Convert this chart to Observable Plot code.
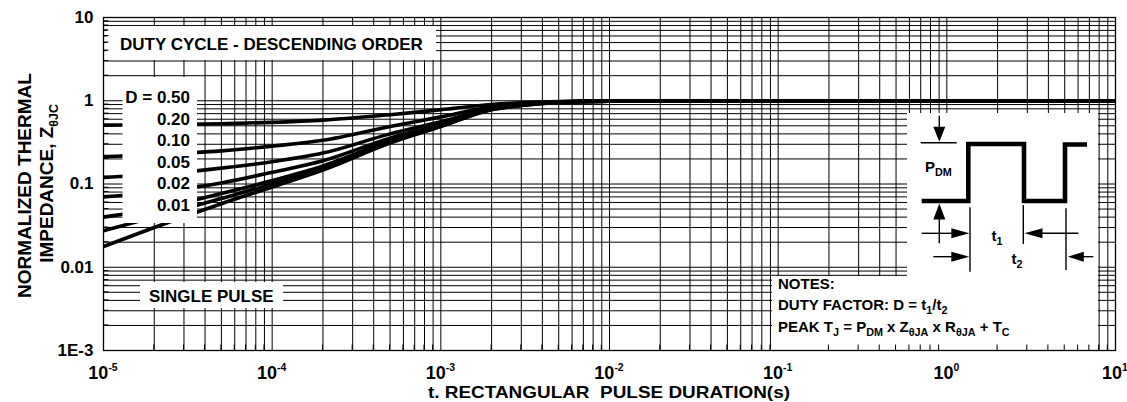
<!DOCTYPE html>
<html><head><meta charset="utf-8">
<script src="https://cdn.jsdelivr.net/npm/d3@7"></script>
<script src="https://cdn.jsdelivr.net/npm/@observablehq/plot@0.6"></script>
<style>
html,body{margin:0;padding:0;background:#fff;}
#chart svg{display:block;}
</style></head><body><div id="chart"></div>
<script>
// ---- axis / tick data ----
const xDecades = [1e-5, 1e-4, 1e-3, 1e-2, 1e-1, 1, 10];
const xExponents = ["-5", "-4", "-3", "-2", "-1", "0", "1"];
const yDecades = [10, 1, 0.1, 0.01, 0.001];
const yTickLabels = ["10", "1", "0.1", "0.01", "1E-3"];
const gridMultipliers = [1, 2, 3, 4, 5, 6, 7, 8, 9];

// ---- series ----
const pulseDuration = [1e-5, 2e-5, 5e-5, 1e-4, 2e-4, 5e-4, 1e-3, 2e-3, 3e-3, 5e-3, 1e-2, 1e-1, 1, 10];
const zD050   = [0.51,   0.515, 0.53,  0.55,  0.585, 0.68,  0.78,  0.90,  0.945, 0.98,  0.995, 1.0, 1.0, 1.0];
const zD020   = [0.213,  0.225, 0.25,  0.285, 0.335, 0.49,  0.64,  0.84,  0.915, 0.97,  0.99,  1.0, 1.0, 1.0];
const zD010   = [0.12,   0.13,  0.155, 0.185, 0.235, 0.40,  0.56,  0.81,  0.90,  0.965, 0.99,  1.0, 1.0, 1.0];
const zD005   = [0.070,  0.079, 0.103, 0.138, 0.19,  0.355, 0.52,  0.795, 0.89,  0.96,  0.99,  1.0, 1.0, 1.0];
const zD002   = [0.040,  0.050, 0.077, 0.11,  0.165, 0.33,  0.50,  0.79,  0.885, 0.96,  0.99,  1.0, 1.0, 1.0];
const zD001   = [0.0275, 0.040, 0.067, 0.10,  0.155, 0.32,  0.495, 0.785, 0.88,  0.955, 0.99,  1.0, 1.0, 1.0];
const zSingle = [0.0177, 0.030, 0.058, 0.092, 0.147, 0.31,  0.49,  0.78,  0.875, 0.955, 0.99,  1.0, 1.0, 1.0];
const legendLabels = ["0.50", "0.20", "0.10", "0.05", "0.02", "0.01"];

const seriesList = [
  ["D=0.50", zD050], ["D=0.20", zD020], ["D=0.10", zD010], ["D=0.05", zD005],
  ["D=0.02", zD002], ["D=0.01", zD001], ["SINGLE PULSE", zSingle]
];
const rows = seriesList.flatMap(([name, vals]) =>
  pulseDuration.map((t, i) => ({t, z: vals[i], series: name})));

const xGrid = xDecades.slice(0, -1).flatMap(d => gridMultipliers.map(m => m * d)).concat([10]);
const yGrid = [0.001, 0.01, 0.1, 1].flatMap(d => gridMultipliers.map(m => m * d)).concat([10]);
const xMinor = xGrid.filter(v => !xDecades.includes(v));
const yMinor = yGrid.filter(v => !yDecades.includes(v));

const FONT = "'Liberation Sans', Arial, Helvetica, sans-serif";

// rich text helper (sub/superscripts)
function rich(g, x, y, parts, {size = 17, anchor = "start", rotate = 0, subScale = 0.72, length = null} = {}) {
  const t = g.append("text")
    .attr("transform", `translate(${x},${y}) rotate(${rotate})`)
    .attr("text-anchor", anchor)
    .attr("font-size", size)
    .attr("font-weight", "bold")
    .attr("fill", "black")
    .style("white-space", "pre");
  if (length) t.attr("textLength", length).attr("lengthAdjust", "spacingAndGlyphs");
  let shift = 0;
  for (const p of parts) {
    const s = p.sub ? size * 0.28 : p.sup ? -size * 0.42 : 0;
    const ts = t.append("tspan").text(p.t).attr("dy", s - shift);
    if (p.sub || p.sup) ts.attr("font-size", size * (p.sup ? 0.58 : subScale));
    shift = s;
  }
  return t;
}

function arrowHead(g, tip, dir, len, half) {
  const [x, y] = tip;
  let pts;
  if (dir === "down") pts = [[x - half, y - len], [x + half, y - len], [x, y]];
  if (dir === "up") pts = [[x - half, y + len], [x + half, y + len], [x, y]];
  if (dir === "right") pts = [[x - len, y - half], [x - len, y + half], [x, y]];
  if (dir === "left") pts = [[x + len, y - half], [x + len, y + half], [x, y]];
  g.append("path").attr("d", "M" + pts.map(p => p.join(",")).join("L") + "Z").attr("fill", "black");
}

// annotation layer: white boxes, legend, notes, pulse inset, inward ticks
function annotations(index, scales, values, dims) {
  const g = d3.create("svg:g").attr("font-family", FONT);
  const box = (x1, y1, x2, y2) => g.append("rect").attr("x", x1).attr("y", y1)
    .attr("width", x2 - x1).attr("height", y2 - y1).attr("fill", "white");
  box(107, 26, 436, 60);      // duty cycle label
  box(122.5, 77, 197, 223);   // D legend
  box(140, 282, 283, 308);    // single pulse
  box(907, 113, 1098, 277);   // inset
  box(772, 276, 1098, dims.height - dims.marginBottom); // notes

  rich(g, 120, 50, [{t: "DUTY CYCLE - DESCENDING ORDER"}], {size: 17});
  rich(g, 149, 301.5, [{t: "SINGLE PULSE"}], {size: 17});
  legendLabels.forEach((lab, i) => {
    rich(g, 190, 103.3 + i * 21.5, [{t: (i === 0 ? "D = " : "") + lab}], {size: 17, anchor: "end"});
  });

  // notes
  rich(g, 778, 288.5, [{t: "NOTES:"}], {size: 15});
  rich(g, 778, 310, [{t: "DUTY FACTOR: D = t"}, {t: "1", sub: true}, {t: "/t"}, {t: "2", sub: true}], {size: 15});
  rich(g, 778, 331.5, [{t: "PEAK T"}, {t: "J", sub: true}, {t: " = P"}, {t: "DM", sub: true},
    {t: " x Z"}, {t: "θJA", sub: true}, {t: " x R"}, {t: "θJA", sub: true}, {t: " + T"}, {t: "C", sub: true}], {size: 15});

  // pulse inset
  g.append("path").attr("d", "M921.7,201H968.3V144H1024V201H1065V144.5H1087")
    .attr("fill", "none").attr("stroke", "black").attr("stroke-width", 4.6)
    .attr("stroke-linejoin", "miter").attr("stroke-linecap", "butt");
  const thin = d => g.append("path").attr("d", d).attr("fill", "none")
    .attr("stroke", "black").attr("stroke-width", 1.4);
  thin("M920.7,142.7H956.7");
  thin("M939.3,115.7V128");
  arrowHead(g, [939.3, 141.7], "down", 15, 6);
  thin("M939.3,243.3V218");
  arrowHead(g, [939.3, 203.5], "up", 16, 6);
  thin("M970,207.3V271.7");
  thin("M1023.3,205V244");
  thin("M1066,208.3V270");
  thin("M921.7,233.3H952");
  arrowHead(g, [969.3, 233.3], "right", 18, 5);
  thin("M1078.3,233.3H1040");
  arrowHead(g, [1024.5, 233.3], "left", 18, 5);
  thin("M933.3,256.7H952");
  arrowHead(g, [969.3, 256.7], "right", 18, 5);
  thin("M1093.3,256.7H1082");
  arrowHead(g, [1067.8, 256.7], "left", 16, 5);
  rich(g, 925, 171.5, [{t: "P"}, {t: "DM", sub: true}], {size: 15});
  rich(g, 991.5, 240.5, [{t: "t"}, {t: "1", sub: true}], {size: 15});
  rich(g, 1011.5, 264, [{t: "t"}, {t: "2", sub: true}], {size: 15});

  // inward minor ticks on bottom and left frame edges
  const yb = dims.height - dims.marginBottom;
  const xl = dims.marginLeft;
  for (const v of xMinor) {
    const px = scales.x(v);
    g.append("line").attr("x1", px).attr("x2", px).attr("y1", yb).attr("y2", yb - 5.5)
      .attr("stroke", "black").attr("stroke-width", 1);
  }
  for (const v of yMinor) {
    const py = scales.y(v);
    g.append("line").attr("x1", xl).attr("x2", xl + 5.5).attr("y1", py).attr("y2", py)
      .attr("stroke", "black").attr("stroke-width", 1);
  }
  return g.node();
}

// axis texts: x tick labels with superscripts, axis titles
function axisTexts(index, scales, values, dims) {
  const g = d3.create("svg:g").attr("font-family", FONT);
  xDecades.forEach((v, i) => {
    rich(g, scales.x(v), 378.5, [{t: "10"}, {t: xExponents[i], sup: true}], {size: 18, anchor: "middle"});
  });
  const cx = (dims.marginLeft + dims.width - dims.marginRight) / 2;
  rich(g, cx, 397.8, [{t: "t. RECTANGULAR  PULSE DURATION(s)"}], {size: 16.5, anchor: "middle", length: 362});
  const cy = (dims.marginTop + dims.height - dims.marginBottom) / 2;
  rich(g, 31, cy + 2, [{t: "NORMALIZED THERMAL"}], {size: 19, anchor: "middle", rotate: -90});
  rich(g, 53, cy, [{t: "IMPEDANCE, Z"}, {t: "θJC", sub: true}], {size: 19, anchor: "middle", rotate: -90, subScale: 0.65});
  return g.node();
}

const chart = Plot.plot({
  width: 1127,
  height: 402,
  marginLeft: 103,
  marginRight: 12,
  marginTop: 17,
  marginBottom: 52,
  style: {fontFamily: FONT, fontWeight: "bold", background: "white", overflow: "visible"},
  x: {type: "log", domain: [1e-5, 10], axis: null},
  y: {type: "log", domain: [0.001, 10], axis: null},
  marks: [
    Plot.ruleX(xGrid, {x: d => d, stroke: "black", strokeWidth: 1}),
    Plot.ruleY(yGrid, {y: d => d, stroke: "black", strokeWidth: 1}),
    Plot.line(rows, {x: "t", y: "z", z: "series", stroke: "black", strokeWidth: 3.6,
      curve: "monotone-x", clip: true, strokeLinecap: "butt"}),
    annotations,
    Plot.text(yDecades, {y: d => d, frameAnchor: "left", dx: -10, textAnchor: "end",
      text: (d, i) => yTickLabels[i], fontSize: 17, fill: "black"}),
    axisTexts,
    Plot.frame({stroke: "black", strokeWidth: 1.3})
  ]
});
document.getElementById("chart").appendChild(chart);
</script>
</body></html>
